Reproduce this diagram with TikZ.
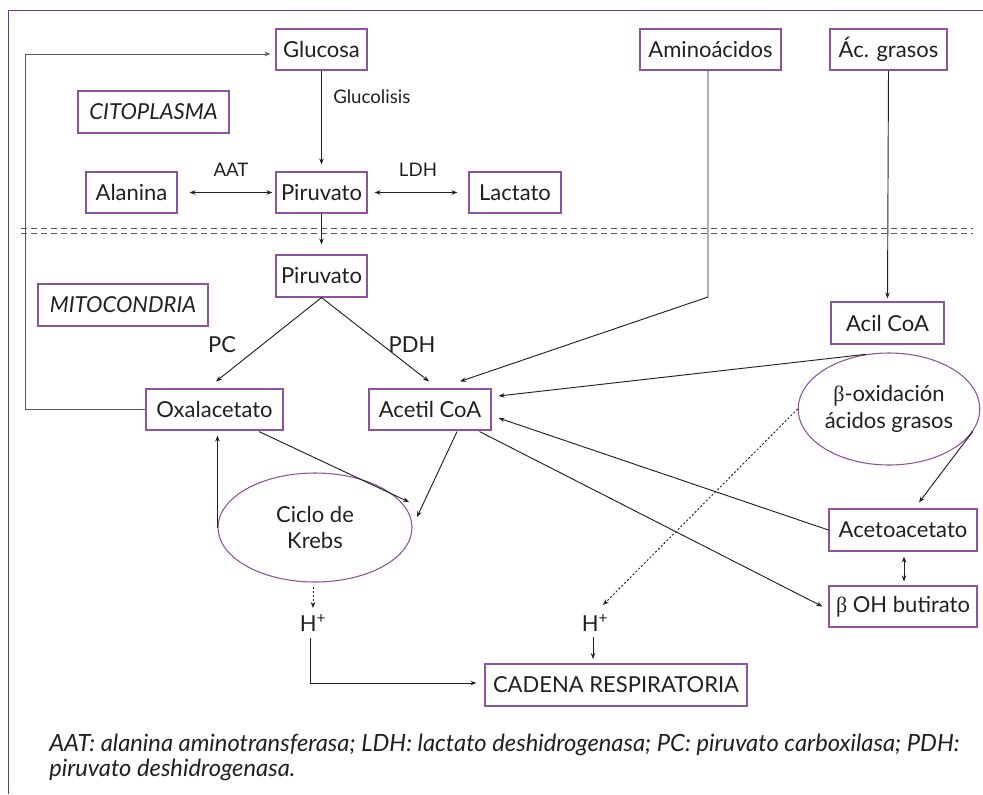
\documentclass[tikz,border=0pt]{standalone}
\usepackage{fontspec}
\setmainfont{Lato}
\newfontfamily\betafont{Liberation Serif}
\usetikzlibrary{arrows.meta,shapes.geometric}
\newlength\pxu \setlength\pxu{0.75pt}
\definecolor{frameviolet}{RGB}{120,50,135}
\definecolor{boxviolet}{RGB}{142,82,162}
\definecolor{ink}{RGB}{35,31,32}
\definecolor{sepgray}{RGB}{90,90,90}

\begin{document}
\begin{tikzpicture}[x=0.75pt,y=-0.75pt,
  every node/.style={text=ink},
  bigfont/.style={font=\fontsize{16.5}{20}\selectfont},
  box/.style={draw=boxviolet,line width=0.85pt,inner sep=0pt,bigfont,minimum height=41\pxu},
  oval/.style={draw=boxviolet,ellipse,line width=0.8pt,inner sep=0pt,align=center,bigfont},
  lbl/.style={inner sep=0pt,font=\fontsize{14}{16}\selectfont},
  mid/.style={inner sep=0pt,bigfont},
  arr/.style={draw=ink,line width=0.7pt,-{Stealth[length=4.5pt,width=3.4pt]}},
  darr/.style={arr,{Stealth[length=4.5pt,width=3.4pt]}-{Stealth[length=4.5pt,width=3.4pt]}},
  dotarr/.style={arr,dash pattern=on 1.5pt off 1.5pt},
]
\useasboundingbox (0,0) rectangle (983,794);

% outer frame (top and left sides)
\draw[frameviolet,line width=1.2pt] (983,10.5) -- (8.5,10.5) -- (8.5,794);

% membrane separating cytoplasm and mitochondria
\draw[sepgray,line width=0.6pt,dash pattern=on 4.5pt off 3pt] (21,228) -- (973,228);
\draw[sepgray,line width=0.6pt,dash pattern=on 4.5pt off 3pt] (21,233) -- (973,233);

% cytoplasm
\node[box,minimum width=91\pxu] (glu) at (321.5,49.5) {Glucosa};
\node[box,minimum width=91\pxu] (pir1) at (321.5,192.5) {Piruvato};
\node[box,minimum width=91\pxu] (ala) at (131.5,192.5) {Alanina};
\node[box,minimum width=92\pxu] (lac) at (515,192.5) {Lactato};
\node[box,minimum width=151\pxu,minimum height=42\pxu] (cito) at (153.5,112) {\itshape CITOPLASMA};
\node[box,minimum width=141\pxu] (amino) at (710.5,49.5) {Aminoácidos};
\node[box,minimum width=117\pxu] (acg) at (888.5,49.5) {Ác. grasos};

% mitochondria
\node[box,minimum width=91\pxu,minimum height=42\pxu] (pir2) at (321.5,276) {Piruvato};
\node[box,minimum width=170\pxu,minimum height=42\pxu] (mito) at (123,305) {\itshape MITOCONDRIA};
\node[box,minimum width=137\pxu] (ox) at (214.5,409.5) {Oxalacetato};
\node[box,minimum width=122\pxu] (acetil) at (430,409.5) {Acetil CoA};
\node[box,minimum width=113\pxu,minimum height=42\pxu] (acil) at (887.5,323) {Acil CoA};
\node[oval,minimum width=144\pxu,minimum height=112\pxu] (bo) at (889,409) {{\betafont β}-oxidación\\ácidos grasos};
\node[oval,minimum width=194\pxu,minimum height=109\pxu] (kr) at (315,527.5) {Ciclo de\\Krebs};
\node[box,minimum width=148\pxu,minimum height=42\pxu] (aceto) at (903,530) {Acetoacetato};
\node[box,minimum width=148\pxu] (but) at (903,606.5) {{\betafont β} OH butirato};
\node[box,minimum width=262\pxu,minimum height=42\pxu] (cad) at (616,685) {CADENA RESPIRATORIA};
\node[mid] (h1) at (313,623) {H\textsuperscript{+}};
\node[mid] (h2) at (595,623) {H\textsuperscript{+}};

% enzyme and pathway labels
\node[lbl,anchor=west] (glucolisis) at (333,97) {Glucolisis};
\node[lbl] (aat) at (231,170) {AAT};
\node[lbl] (ldh) at (418,170) {LDH};
\node[mid] (pc) at (222,345) {PC};
\node[mid] (pdh) at (412,345) {PDH};

% cytoplasmic reactions
\draw[arr] (glu.south) -- ([shift={(0,-7)}]pir1.north);
\draw[darr] ([shift={(12,0)}]ala.east) -- ([shift={(-3,0)}]pir1.west);
\draw[darr] ([shift={(7,0)}]pir1.east) -- ([shift={(-11,0)}]lac.west);
\draw[arr] (pir1.south) -- ([shift={(0,-10)}]pir2.north);

% oxalacetate back to glucose
\draw[arr,draw=sepgray] (ox.west) -- ++(-120,0) |- ([shift={(-5,4.5)}]glu.west);

% pyruvate branches
\draw[arr] (pir2.south) -- ([shift={(1.5,-7)}]ox.north);
\draw[arr] (pir2.south) -- ([shift={(-1,-7)}]acetil.north);

% amino acids and fatty acids
\coordinate (aminobend) at (708,297);
\draw[arr] (amino.south -| aminobend) -- (aminobend) -- ([shift={(30,-7)}]acetil.north);
\draw[arr] (acg.south) -- ([shift={(0,-3)}]acil.north);
\draw[arr] (bo.113) -- ([shift={(7,-13.5)}]acetil.east);
\draw[arr] (bo.-15) -- ([shift={(16,-6)}]aceto.north);
\draw[arr] (aceto.west) -- ([shift={(7,8.5)}]acetil.east);
\draw[arr] ([shift={(-12,1)}]acetil.south east) -- ([shift={(-6,0)}]but.west);
\draw[darr] ([shift={(1,5)}]aceto.south) -- ([shift={(1,-4)}]but.north);

% Krebs cycle
\draw[arr] ([shift={(44.5,1)}]ox.south) -- ([shift={(94,-25.5)}]kr.center);
\draw[arr] ([shift={(27,1)}]acetil.south) -- ([shift={(102,-10.5)}]kr.center);
\draw[arr,shorten >=5\pxu] (kr.west) -- (kr.west |- ox.south);

% reducing equivalents to the respiratory chain
\draw[dotarr] ([shift={(-2,4)}]kr.south) -- ([shift={(0,-15)}]h1.center);
\draw[dotarr] (bo.west) -- ([shift={(8,-18)}]h2.center);
\draw[arr] ([shift={(-3,15)}]h1.center) |- ([shift={(-8,-2)}]cad.west);
\draw[arr] ([shift={(-2,14)}]h2.center) -- ++(0,22);

% legend
\node[anchor=base west,inner sep=0pt,align=left,font=\fontsize{17.8}{18.75}\selectfont\itshape] (legend) at (49,776)
  {AAT: alanina aminotransferasa; LDH: lactato deshidrogenasa; PC: piruvato carboxilasa; PDH:\\piruvato deshidrogenasa.};
\end{tikzpicture}
\end{document}
